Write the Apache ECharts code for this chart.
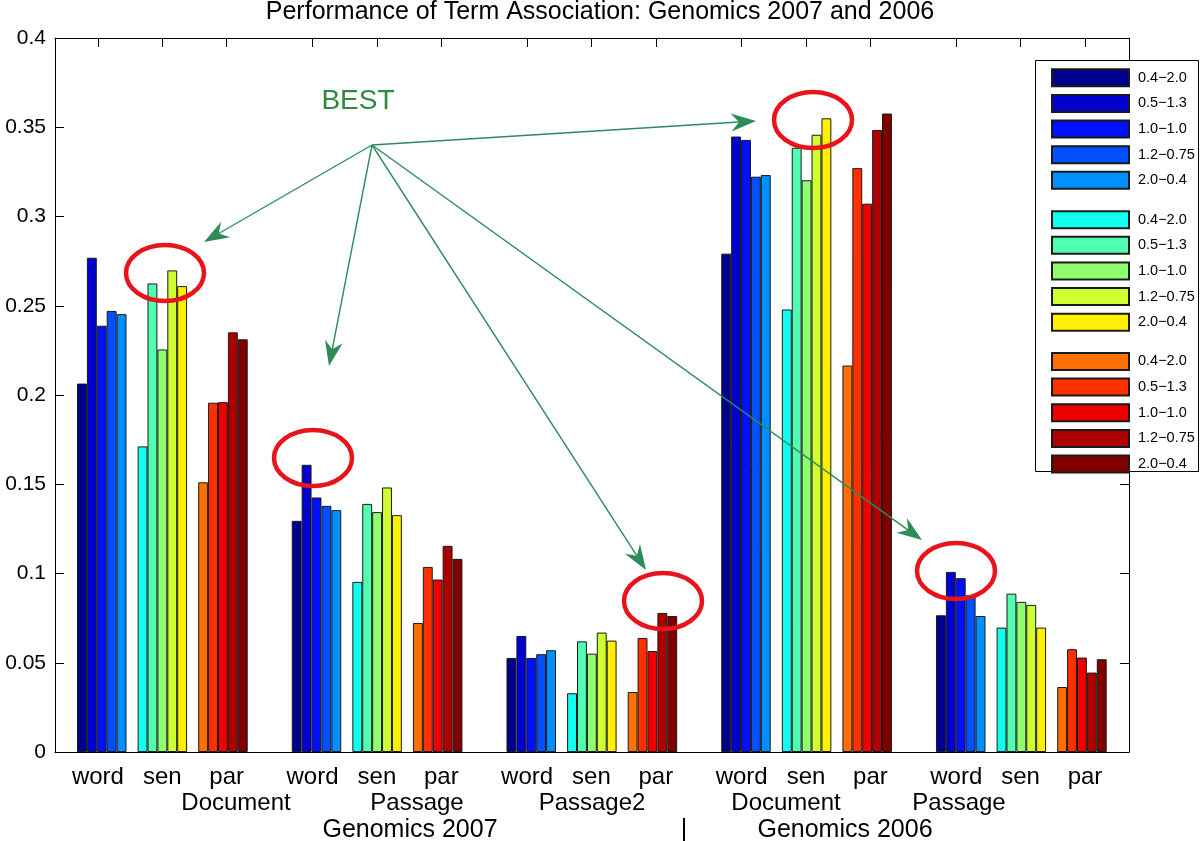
<!DOCTYPE html>
<html>
<head>
<meta charset="utf-8">
<script src="https://cdn.jsdelivr.net/npm/echarts@6/dist/echarts.min.js"></script>
<style>html,body{margin:0;padding:0;background:#fff}#c{width:1200px;height:841px}</style>
</head>
<body>
<div id="c"></div>
<script>
// ---------------- data ----------------
const typeLabels = ['word', 'sen', 'par'];
const groupLabels = ['Document', 'Passage', 'Passage2', 'Document', 'Passage'];
const yearLabels = ['Genomics 2007', '|', 'Genomics 2006'];
const paramLabels = ['0.4\u22122.0', '0.5\u22121.3', '1.0\u22121.0', '1.2\u22120.75', '2.0\u22120.4'];
const titleText = 'Performance of Term Association: Genomics 2007 and 2006';
const annotationText = 'BEST';

// values per parameter setting, one entry per group (Doc07, Pass07, Pass2-07, Doc06, Pass06)
const wordValues = [
  [0.2064, 0.1295, 0.0527, 0.2792, 0.0766],
  [0.2769, 0.1609, 0.0650, 0.3448, 0.1009],
  [0.2388, 0.1426, 0.0527, 0.3429, 0.0974],
  [0.2471, 0.1379, 0.0548, 0.3223, 0.0878],
  [0.2453, 0.1355, 0.0570, 0.3232, 0.0762]
];
const senValues = [
  [0.1712, 0.0953, 0.0329, 0.2479, 0.0697],
  [0.2625, 0.1390, 0.0620, 0.3385, 0.0887],
  [0.2255, 0.1344, 0.0551, 0.3203, 0.0841],
  [0.2698, 0.1482, 0.0669, 0.3458, 0.0824],
  [0.2610, 0.1327, 0.0624, 0.3550, 0.0697]
];
const parValues = [
  [0.1511, 0.0723, 0.0336, 0.2165, 0.0364],
  [0.1957, 0.1037, 0.0639, 0.3271, 0.0576],
  [0.1960, 0.0966, 0.0566, 0.3072, 0.0529],
  [0.2351, 0.1155, 0.0779, 0.3485, 0.0445],
  [0.2312, 0.1082, 0.0762, 0.3577, 0.0520]
];
const wordColors = ['#00008f', '#0000cf', '#0010ff', '#0050ff', '#008fff'];
const senColors  = ['#10ffef', '#50ffaf', '#8fff70', '#cfff30', '#ffef00'];
const parColors  = ['#ff7000', '#ff3000', '#ef0000', '#af0000', '#800000'];

// ---------------- layout ----------------
const FONT = 'Liberation Sans, Arial, Helvetica, sans-serif';
const GRID = {left: 55, right: 71, top: 38, bottom: 89};
const PLOT_W = 1200 - GRID.left - GRID.right;
const X_MAX = 17.723;
const CLUSTER0 = 0.7715, GROUP_STEP = 3.5437, BAR_W = 0.16337;
const TICK0 = 0.7079, TICK_STEP = 1.0627, TICK_GROUP = 3.541;
const barPx = BAR_W / X_MAX * PLOT_W;

const tickVals = [];
const tickNames = [];
groupLabels.forEach((g, gi) => {
  typeLabels.forEach((t, ti) => {
    tickVals.push(TICK0 + gi * TICK_GROUP + ti * TICK_STEP);
    tickNames.push(t);
  });
});
function labelFor(v) {
  for (let i = 0; i < tickVals.length; i++) if (Math.abs(tickVals[i] - v) < 1e-6) return tickNames[i];
  return '';
}

const valueSets = [wordValues, senValues, parValues];
const colorSets = [wordColors, senColors, parColors];
const series = [];
const legendNames = [[], [], []];
valueSets.forEach((vals, t) => {
  vals.forEach((row, k) => {
    const name = paramLabels[k] + '#' + t;
    legendNames[t].push(name);
    series.push({
      type: 'bar', name: name,
      xAxisIndex: 0, yAxisIndex: 0,
      barWidth: barPx, barGap: '-100%',
      itemStyle: {color: colorSets[t][k], borderColor: '#1a1a1a', borderWidth: 1},
      emphasis: {disabled: true},
      data: row.map((v, g) => [CLUSTER0 + g * GROUP_STEP + t + (k - 2) * BAR_W, v])
    });
  });
});

const ROW0 = 68.3, ROW_STEP = 23.64;
const legends = legendNames.map((names, t) => ({
  data: names, orient: 'vertical', left: 1051, top: ROW0 + t * 6 * ROW_STEP,
  padding: 0, itemWidth: 77, itemHeight: 17, itemGap: ROW_STEP - 17,
  icon: 'rect', selectedMode: false, z: 20,
  formatter: n => n.split('#')[0],
  textStyle: {fontSize: 14.5, color: '#000', fontFamily: FONT, lineHeight: 17, padding: [0, 0, 0, 4]}
}));

// annotations
const GREEN = '#2e8b57';
function arrow(x0, y0, x1, y1) {
  const dx = x1 - x0, dy = y1 - y0, len = Math.hypot(dx, dy);
  const ux = dx / len, uy = dy / len, nx = -uy, ny = ux;
  const L = 25, W = 9, N = 8;
  const bx = x1 - ux * L, by = y1 - uy * L;
  const mx = x1 - ux * (L - N), my = y1 - uy * (L - N);
  return [
    {type: 'line', z: 30, shape: {x1: x0, y1: y0, x2: mx, y2: my}, style: {stroke: GREEN, lineWidth: 1.4}},
    {type: 'polygon', z: 30, shape: {points: [[x1, y1], [bx + nx * W, by + ny * W], [mx, my], [bx - nx * W, by - ny * W]]}, style: {fill: GREEN}}
  ];
}
const arrowOrigin = [372, 145];
const arrowTips = [[204, 242], [329, 366], [646, 570], [756, 121], [922, 540]];
const ellipses = [[165, 273], [313, 458], [663, 601], [813, 120], [956, 571]];

const graphics = [];
arrowTips.forEach(p => graphics.push(...arrow(arrowOrigin[0], arrowOrigin[1], p[0], p[1])));
ellipses.forEach(e => graphics.push({type: 'ellipse', z: 31, shape: {cx: e[0], cy: e[1], rx: 39, ry: 28},
  style: {fill: 'none', stroke: '#e8141c', lineWidth: 4.5}}));
graphics.push({type: 'text', z: 30, x: 358, y: 101, style: {text: annotationText, fill: '#2d8a3e', fontSize: 28, fontFamily: FONT, align: 'center', verticalAlign: 'middle'}});
// legend box
graphics.push({type: 'rect', z: 19, shape: {x: 1035.5, y: 60.5, width: 163, height: 411}, style: {fill: '#fff', stroke: '#000', lineWidth: 1}});
// group / year labels
const groupX = [236, 417, 592, 786, 959];
groupLabels.forEach((g, i) => graphics.push({type: 'text', x: groupX[i], y: 803,
  style: {text: g, fill: '#000', fontSize: 24, fontFamily: FONT, align: 'center', verticalAlign: 'middle'}}));
const yearX = [410, 684, 845];
yearLabels.forEach((g, i) => graphics.push({type: 'text', x: yearX[i], y: 830,
  style: {text: g, fill: '#000', fontSize: 25, fontFamily: FONT, align: 'center', verticalAlign: 'middle'}}));

const axisLineStyle = {color: '#000', width: 1};
const option = {
  animation: false,
  backgroundColor: '#fff',
  title: {text: titleText, left: 'center', top: 0, padding: 0,
    textStyle: {fontSize: 25, fontWeight: 'normal', color: '#000', fontFamily: FONT}},
  grid: Object.assign({containLabel: false, outerBoundsMode: 'none'}, GRID),
  legend: legends,
  xAxis: [
    {type: 'value', position: 'bottom', min: 0, max: X_MAX,
      axisLine: {show: true, onZero: false, lineStyle: axisLineStyle},
      axisTick: {show: false}, splitLine: {show: false},
      axisLabel: {show: true, customValues: tickVals, formatter: v => labelFor(v), fontSize: 24, color: '#000', fontFamily: FONT, margin: 13}},
    {type: 'value', position: 'top', min: 0, max: X_MAX,
      axisLine: {show: true, onZero: false, lineStyle: axisLineStyle},
      axisTick: {show: true, inside: true, length: 9, customValues: tickVals, lineStyle: axisLineStyle},
      axisLabel: {show: false}, splitLine: {show: false}}
  ],
  yAxis: [
    {type: 'value', position: 'left', min: 0, max: 0.4, interval: 0.05,
      axisLine: {show: true, onZero: false, lineStyle: axisLineStyle},
      axisTick: {show: true, inside: true, length: 9, lineStyle: axisLineStyle},
      axisLabel: {fontSize: 21, color: '#000', fontFamily: FONT, margin: 9},
      splitLine: {show: false}},
    {type: 'value', position: 'right', min: 0, max: 0.4, interval: 0.05,
      axisLine: {show: true, onZero: false, lineStyle: axisLineStyle},
      axisTick: {show: true, inside: true, length: 9, lineStyle: axisLineStyle},
      axisLabel: {show: false}, splitLine: {show: false}}
  ],
  graphic: {elements: graphics},
  series: series
};
const chart = echarts.init(document.getElementById('c'), null, {renderer: 'canvas'});
chart.setOption(option);
</script>
</body>
</html>
